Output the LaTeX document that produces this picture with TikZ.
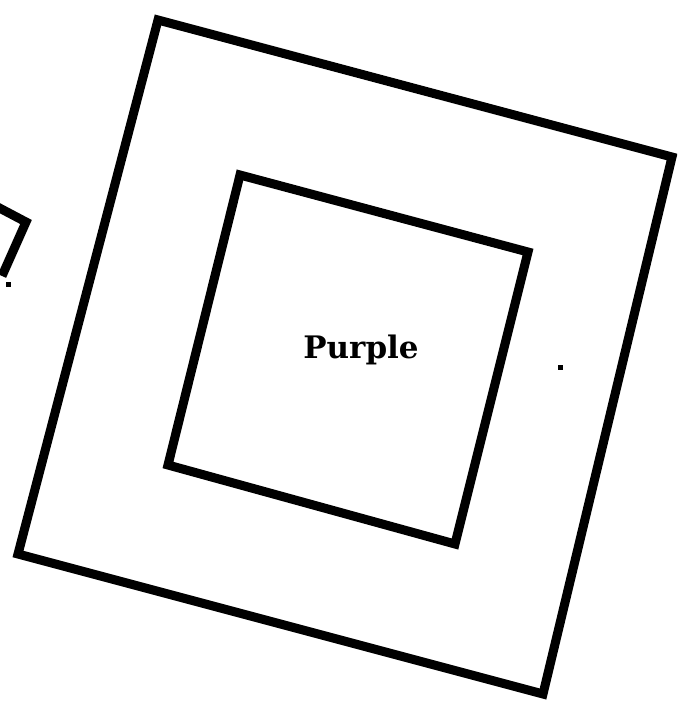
\documentclass[tikz,border=0pt]{standalone}
\usepackage{fontspec}
\newfontfamily\labelfont{DejaVu Serif}
\begin{document}
\begin{tikzpicture}[x=1pt,y=-1pt,
  frame/.style={line width=9pt,line join=miter,black},
  speck/.style={fill=black}]
\useasboundingbox (0,0) rectangle (677,703);
\clip (0,0) rectangle (677,703);
% outer square
\draw[frame] (158,20) -- (672,157) -- (543,694) -- (18,554) -- cycle;
% inner square
\draw[frame] (240,175) -- (528,252) -- (455,544) -- (168,465) -- cycle;
% fragment at left edge
\draw[frame] (-10,203) -- (26,222) -- (2,276);
% specks
\fill[speck] (6,282) rectangle (11,287);
\fill[speck] (558,365) rectangle (563,370);
\node[font=\labelfont\bfseries\fontsize{31}{34}\selectfont] (lbl) at (361,350) {Purple};
\end{tikzpicture}
\end{document}
